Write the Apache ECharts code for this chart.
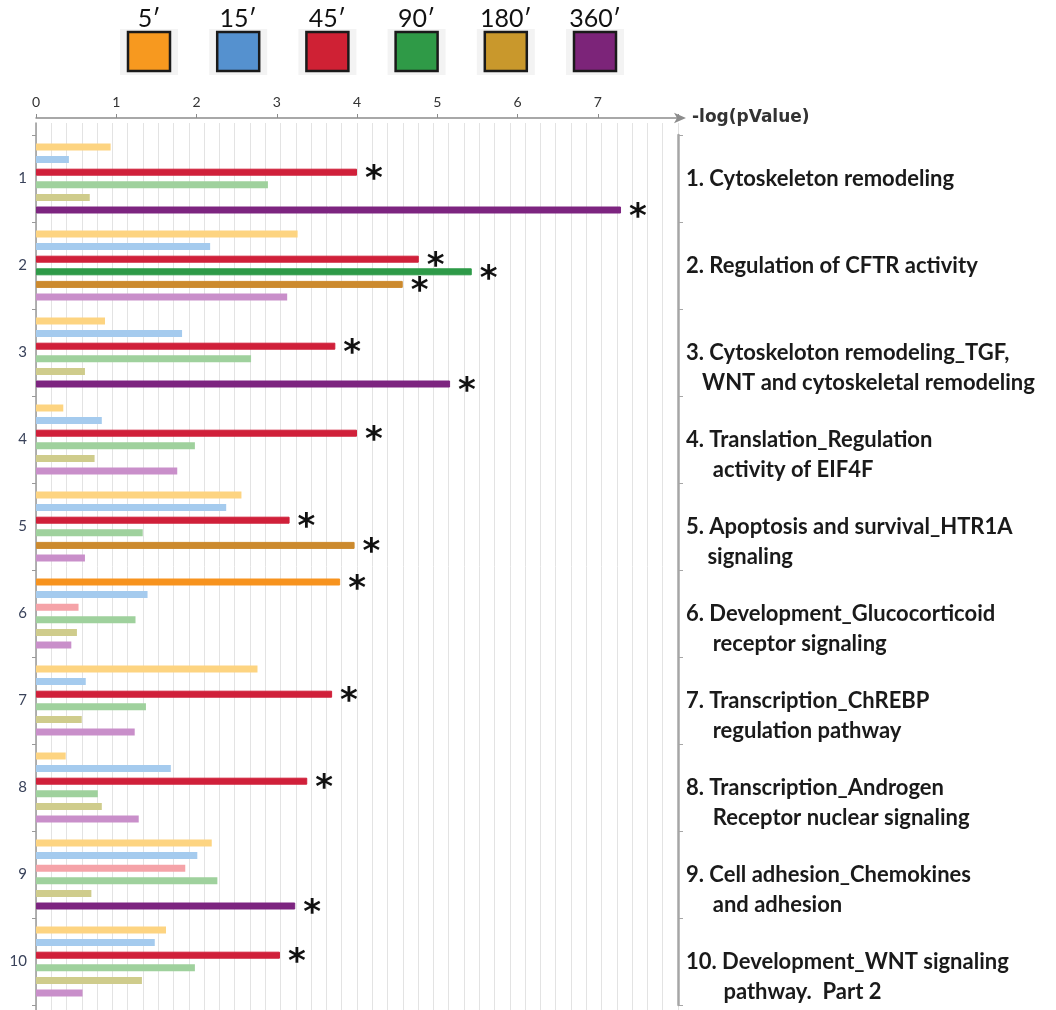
<!DOCTYPE html>
<html>
<head>
<meta charset="utf-8">
<script src="https://cdn.jsdelivr.net/npm/echarts@6/dist/echarts.min.js"></script>
<style>
  html, body { margin: 0; padding: 0; background: #ffffff; }
  #chart { width: 1056px; height: 1010px; }
</style>
</head>
<body>
<div id="chart"></div>
<script>
// Pathway groups (row numbers on the left axis)
const categories = ['1', '2', '3', '4', '5', '6', '7', '8', '9', '10'];

// Pathway names shown on the right (second entry = continuation line)
const pathways = [
  ['1. Cytoskeleton remodeling'],
  ['2. Regulation of CFTR activity'],
  ['3. Cytoskeloton remodeling_TGF,', '   WNT and cytoskeletal remodeling'],
  ['4. Translation_Regulation', '     activity of EIF4F'],
  ['5. Apoptosis and survival_HTR1A', '    signaling'],
  ['6. Development_Glucocorticoid', '     receptor signaling'],
  ['7. Transcription_ChREBP', '     regulation pathway'],
  ['8. Transcription_Androgen', '     Receptor nuclear signaling'],
  ['9. Cell adhesion_Chemokines', '     and adhesion'],
  ['10. Development_WNT signaling', '       pathway.  Part 2']
];

// Time points
const seriesNames = ['5\u2032', '15\u2032', '45\u2032', '90\u2032', '180\u2032', '360\u2032'];

// -log(pValue) per pathway for each time point
const v5   = [0.93, 3.26, 0.86, 0.34, 2.56, 3.79, 2.76, 0.37, 2.19, 1.62];
const v15  = [0.41, 2.17, 1.82, 0.82, 2.37, 1.39, 0.62, 1.68, 2.01, 1.48];
const v45  = [4.00, 4.77, 3.73, 4.00, 3.16, 0.53, 3.69, 3.38, 1.86, 3.04];
const v90  = [2.89, 5.43, 2.68, 1.98, 1.33, 1.24, 1.37, 0.77, 2.26, 1.98];
const v180 = [0.67, 4.57, 0.61, 0.73, 3.97, 0.51, 0.57, 0.82, 0.69, 1.32];
const v360 = [7.29, 3.13, 5.16, 1.76, 0.61, 0.44, 1.23, 1.28, 3.23, 0.58];

// Significant results (marked with an asterisk, drawn in full colour)
const sig5   = [0, 0, 0, 0, 0, 1, 0, 0, 0, 0];
const sig15  = [0, 0, 0, 0, 0, 0, 0, 0, 0, 0];
const sig45  = [1, 1, 1, 1, 1, 0, 1, 1, 0, 1];
const sig90  = [0, 1, 0, 0, 0, 0, 0, 0, 0, 0];
const sig180 = [0, 1, 0, 0, 1, 0, 0, 0, 0, 0];
const sig360 = [1, 0, 1, 0, 0, 0, 0, 0, 1, 0];

// Tick labels of the -log(pValue) axis
const axisTickLabels = [0, 1, 2, 3, 4, 5, 6, 7];

const values = [v5, v15, v45, v90, v180, v360];
const flags = [sig5, sig15, sig45, sig90, sig180, sig360];

// Colours: strong = significant bar, pale = non-significant bar, key = legend swatch
const strongColors = ['#F7931E', '#4F8FD0', '#D0203A', '#2E9A48', '#CC8A2E', '#7D2580'];
const paleColors   = ['#FDD481', '#A5CBEE', '#F5A3A8', '#9FD19D', '#CFCC8C', '#C98FCA'];
const keyColors    = ['#F7991F', '#5591CF', '#CF2134', '#2F9A47', '#C9982C', '#7C2479'];

const FONT = 'Lato, "Open Sans", sans-serif';

const chart = echarts.init(document.getElementById('chart'), null, { renderer: 'canvas' });

const barSeries = values.map((vals, s) => ({
  type: 'bar',
  name: seriesNames[s],
  xAxisIndex: 0,
  yAxisIndex: 0,
  barWidth: 7,
  barGap: '80%',
  silent: true,
  label: {
    position: 'right',
    formatter: '*',
    fontSize: 34,
    fontWeight: 'bold',
    fontFamily: 'DejaVu Sans, sans-serif',
    color: '#111111',
    distance: 8,
    offset: [0, 8]
  },
  data: vals.map((v, i) => {
    const on = !!flags[s][i];
    return {
      value: v,
      itemStyle: {
        color: on ? strongColors[s] : paleColors[s],
        borderColor: on ? strongColors[s] : paleColors[s],
        borderWidth: on ? 1 : 0
      },
      label: { show: on }
    };
  })
}));

// Legend: time point label above a framed colour swatch
const legendGraphics = [];
seriesNames.forEach((name, i) => {
  const cx = 149 + i * 89.2;
  legendGraphics.push({
    type: 'rect', silent: true,
    shape: { x: cx - 29, y: 29, width: 58, height: 46 },
    style: { fill: '#f3f3f3' }
  });
  legendGraphics.push({
    type: 'rect', silent: true,
    shape: { x: cx - 21, y: 32, width: 42, height: 39 },
    style: { fill: keyColors[i], stroke: '#1a1a1a', lineWidth: 2.5 }
  });
  legendGraphics.push({
    type: 'text', silent: true,
    x: cx, y: 19,
    style: {
      text: name, fill: '#111111', fontSize: 25, fontFamily: FONT,
      align: 'center', verticalAlign: 'middle'
    }
  });
});

const option = {
  animation: false,
  backgroundColor: '#ffffff',
  textStyle: { fontFamily: FONT },
  grid: [
    { left: 36, right: 378, top: 135, height: 870 },
    { left: 36, right: 378, top: 123, bottom: 0 }
  ],
  xAxis: [
    { // value scale for the bars
      type: 'value', gridIndex: 0, min: 0, max: 8, show: false
    },
    { // fine vertical gridlines
      type: 'value', gridIndex: 1, min: 0, max: 42, interval: 1,
      axisLine: { show: false }, axisTick: { show: false }, axisLabel: { show: false },
      splitLine: { show: true, lineStyle: { color: '#e3e3e3', width: 1 } }
    },
    { // labelled -log(pValue) axis with arrow
      type: 'value', gridIndex: 1, position: 'top', offset: 5,
      min: 0, max: 8, interval: 1,
      name: '-log(pValue)', nameLocation: 'end', nameGap: 14,
      nameTextStyle: {
        fontWeight: 'bold', fontSize: 17, color: '#333333',
        fontFamily: '"DejaVu Sans", sans-serif'
      },
      axisLine: {
        show: true,
        lineStyle: { color: '#8c8c8c', width: 1.5 },
        symbol: ['none', 'arrow'], symbolSize: [8, 12], symbolOffset: [0, 8]
      },
      axisTick: { show: true, length: 4, lineStyle: { color: '#8c8c8c' } },
      axisLabel: {
        fontSize: 14, color: '#333333', margin: 9, fontFamily: FONT,
        formatter: v => (axisTickLabels.indexOf(v) >= 0 ? String(v) : '')
      },
      splitLine: { show: false }
    }
  ],
  yAxis: [
    { // row numbers
      type: 'category', gridIndex: 0, data: categories, inverse: true, position: 'left',
      axisLine: { show: false },
      axisTick: { show: true, length: 4, lineStyle: { color: '#999999' } },
      axisLabel: { fontSize: 15, color: '#39425a', margin: 9, fontFamily: FONT }
    },
    { // pathway names on the right border
      type: 'category', gridIndex: 0, data: categories, inverse: true, position: 'right',
      axisLine: { show: true, lineStyle: { color: '#a6a6a6', width: 2.5 } },
      axisTick: { show: true, length: 5, lineStyle: { color: '#a6a6a6' } },
      axisLabel: {
        interval: 0, margin: 8, fontSize: 22, fontWeight: 'bold', color: '#1a1a1a',
        fontFamily: FONT, lineHeight: 30, align: 'left',
        formatter: (val, idx) => {
          const p = pathways[idx];
          return p.length > 1 ? '\n' + p[0] + '\n' + p[1] : p[0];
        }
      }
    },
    { // left border line spanning the full plot height
      type: 'value', gridIndex: 1, min: 0, max: 1, position: 'left',
      axisLine: { show: true, lineStyle: { color: '#999999', width: 1.5 } },
      axisTick: { show: false }, axisLabel: { show: false }, splitLine: { show: false }
    }
  ],
  graphic: legendGraphics,
  series: barSeries
};

chart.setOption(option);
</script>
</body>
</html>
